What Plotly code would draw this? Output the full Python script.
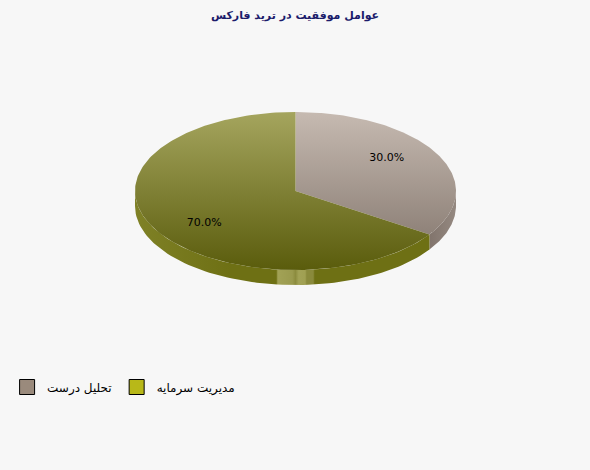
import numpy as np
import plotly.graph_objects as go

# data
labels = ["تحلیل درست", "مدیریت سرمایه"]
values = [30, 70]
pct_text = ["30.0%", "70.0%"]

# colours (top face gradient top/bottom, side, legend)
face_top = ["#c6bab1", "#a5a55e"]
face_bottom = ["#7f7269", "#5a5c0c"]
side_col = ["#7d7068", "#6e7014"]
legend_col = ["#9a8a7c", "#b8b818"]

title = "عوامل موفقیت در ترید فارکس"

W, H = 590, 470
px_unit = 160.5            # pixels per data unit
rx, ry = 1.0, 79 / px_unit
depth = 15 / px_unit
cx_px, cy_px = 295.5, 191

def param_from_screen(phi_deg):
    # fusioncharts style: screen angle -> ellipse parameter
    p = np.radians(phi_deg)
    t = np.arctan2(np.sin(p) / ry, np.cos(p) / rx)
    return np.degrees(t)

def unwrap_to(t, ref):
    # bring t close to ref (going clockwise)
    while t > ref:
        t -= 360
    while t < ref - 360:
        t += 360
    return t

fig = go.Figure()

total = sum(values)
slices = []
phi = 90.0
for v in values:
    sweep = 360 * v / total
    phi0, phi1 = phi, phi - sweep
    t0 = param_from_screen(phi0)
    t1 = unwrap_to(param_from_screen(phi1), t0)
    if t1 >= t0:
        t1 -= 360
    slices.append((t0, t1))
    phi = phi1

# sides first
for i, (t0, t1) in enumerate(slices):
    for k in (0, -360):
        lo, hi = max(t1, -180 + k), min(t0, 0 + k)
        if lo >= hi:
            continue
        ts = np.radians(np.linspace(hi, lo, 80))
        xs = list(rx * np.cos(ts)) + list(rx * np.cos(ts[::-1]))
        ys = list(ry * np.sin(ts)) + list(ry * np.sin(ts[::-1]) - depth)
        if i == 1:
            grad = dict(type="horizontal", start=-rx, stop=rx,
                        colorscale=[[0, "#7f8126"], [0.3, side_col[i]], [0.44, side_col[i]],
                                    [0.445, "#a2a256"], [0.49, "#9a9a4e"], [0.5, "#8c8c3e"],
                                    [0.51, "#a2a256"], [0.53, "#a0a052"], [0.535, "#8a8a3c"],
                                    [0.555, "#8a8a3c"], [0.56, side_col[i]], [1, side_col[i]]])
        else:
            grad = dict(type="horizontal", start=0.8, stop=rx,
                        colorscale=[[0, side_col[i]], [1, "#958981"]])
        fig.add_trace(go.Scatter(x=xs, y=ys, fill="toself", mode="lines",
                                 line=dict(width=0), fillgradient=grad,
                                 hoverinfo="skip", showlegend=False))

# top faces
for i, (t0, t1) in enumerate(slices):
    ts = np.radians(np.linspace(t0, t1, 200))
    xs = [0] + list(rx * np.cos(ts)) + [0]
    ys = [0] + list(ry * np.sin(ts)) + [0]
    fig.add_trace(go.Scatter(x=xs, y=ys, fill="toself", mode="lines",
                             line=dict(width=0),
                             fillgradient=dict(type="vertical", start=-ry, stop=ry,
                                               colorscale=[[0, face_bottom[i]], [1, face_top[i]]]),
                             hoverinfo="skip", showlegend=False))

# value labels
for i, (t0, t1) in enumerate(slices):
    tm = np.radians((t0 + t1) / 2)
    fig.add_trace(go.Scatter(x=[0.645 * rx * np.cos(tm)], y=[0.867 * ry * np.sin(tm)],
                             mode="text", text=[pct_text[i]],
                             textfont=dict(family="DejaVu Sans", size=11, color="#000000"),
                             hoverinfo="skip", showlegend=False))

# legend entries
for i, name in enumerate(labels):
    fig.add_trace(go.Scatter(x=[None], y=[None], mode="markers", name=name,
                             marker=dict(symbol="square", size=15, color=legend_col[i],
                                         line=dict(color="#000000", width=1))))

fig.update_layout(
    width=W, height=H, autosize=False,
    margin=dict(l=0, r=0, t=0, b=0),
    paper_bgcolor="#f7f7f7", plot_bgcolor="#f7f7f7",
    title=dict(text="<b>" + title + "</b>", x=0.5, xanchor="center",
               y=1 - 15 / H, yanchor="middle",
               font=dict(family="DejaVu Sans", size=11, color="#1b1b6b")),
    xaxis=dict(range=[-cx_px / px_unit, (W - cx_px) / px_unit], visible=False, fixedrange=True),
    yaxis=dict(range=[-(H - cy_px) / px_unit, cy_px / px_unit], visible=False, fixedrange=True),
    legend=dict(orientation="h", x=0.012, xanchor="left", y=1 - 387 / H, yanchor="middle",
                bgcolor="rgba(0,0,0,0)",
                font=dict(family="DejaVu Sans", size=12, color="#000000")),
    showlegend=True,
)

# drop the default page margin so the chart fills the window
fig.write_html("out.html", config={"displayModeBar": False},
               post_script="document.body.style.margin='0';document.body.style.background='#f7f7f7';")
